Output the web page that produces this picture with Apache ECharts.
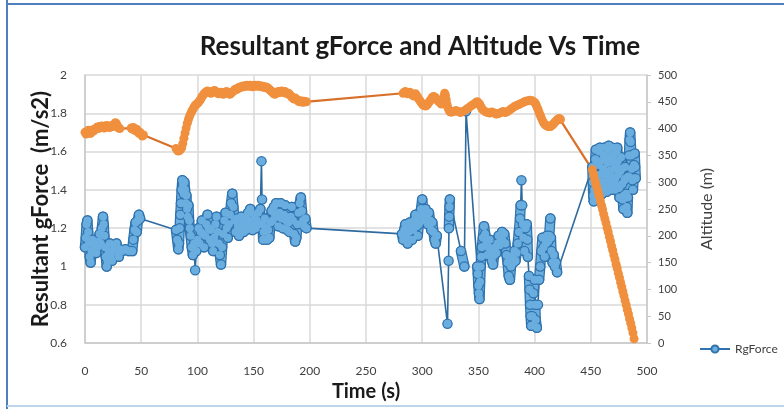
<!DOCTYPE html>
<html><head><meta charset="utf-8">
<script src="https://cdn.jsdelivr.net/npm/echarts@6/dist/echarts.min.js"></script>
<style>html,body{margin:0;padding:0;background:#fff}#c{width:784px;height:409px}</style>
</head><body><div id="c"></div><script>
const chartTitle = 'Resultant gForce and Altitude Vs Time';
const xName = 'Time (s)';
const yLeftName = 'Resultant gForce  (m/s2)';
const yRightName = 'Altitude (m)';
const seriesNames = ['RgForce', 'Altitude'];

// RgForce (left axis): time (s) and value
const gTime = [
 0,0.7,1.4,2.1,2.8,3.5,4.2,5,5.8,6.5,7.3,8,9,10,11,12,13,14,15,16,16.6,17.2,17.8,18.5,19.3,20,21,22,23,24,25,26,27,28,29,30,31,33,36,39,42,43,44,45,46,47,48,49,
 81,82,83,83.6,84.2,84.8,85.4,86,86.6,87.2,87.8,88.4,89,89.6,90.2,90.8,91.4,92,92.6,93.2,94,95,96,97,98,99,
 100,101,102,103,104,105,106,107,108,109,110,111,112,113,114,115,116,117,118,119,120,121,122,123,124,125,126,127,128,129,130,131,132,133,134,135,136,137,138,139,140,141,142,143,144,145,146,147,148,149,150,151,152,153,154,155,156,157,157.5,158,158.5,159,160,161,162,163,164,165,166,167,168,169,170,171,172,173,174,175,176,177,178,179,180,181,182,183,184,185,186,187,188,189,190,191,192,193,194,195,196,197,
 282,283,284,285,286,287,288,289,290,291,292,293,294,295,296,297,298,299,300,301,302,303,304,305,306,307,308,309,310,311,312,313,
 322.5,323.5,323.8,324,324.3,324.6,334.5,337.5,339,349,349.5,350,350.5,351,
 351.5,352,352.5,353,354,355,356,357,358,359,360,361,362,363,364,365,366,367,368,369,370,371,372,373,374,375,376,377,378,379,380,381,382,383,384,385,386,387,387.6,388.3,389,389.6,390,391,392,393,393.6,394,395,395.5,396,396.5,397,398,399,400,400.5,401,402,403,404,405,406,407,408,409,410,411,412,413,414,414.5,415,416,417,418,419,420,
 451.4,451.8,452.2,452.6,453,453.5,454,454.5,455,455.5,456,456.5,457,457.5,458,458.5,459,459.5,460,460.5,461,461.5,462,462.5,463,463.5,464,464.5,465,465.5,466,466.5,467,467.5,468,468.5,469,469.5,470,470.5,471,471.5,472,472.5,473,473.5,474,474.5,475,475.5,476,476.5,477,477.5,478,478.5,479,479.5,480,480.5,481,481.5,482,482.5,483,483.5,484,484.5,485,485.5,486,486.5,487,487.5,488,488.5,489,489.5,490
];
const gValue = [
 1.10,1.15,1.22,1.24,1.18,1.12,1.05,1.02,1.08,1.14,1.12,1.09,1.11,1.07,1.10,1.13,1.17,1.12,1.20,1.26,1.22,1.16,1.10,1.05,1.00,1.03,1.08,1.12,1.06,1.03,1.08,1.11,1.09,1.12,1.08,1.05,1.09,1.08,1.09,1.08,1.08,1.14,1.19,1.23,1.18,1.24,1.27,1.25,
 1.19,1.14,1.09,1.12,1.20,1.27,1.33,1.40,1.45,1.43,1.38,1.44,1.40,1.33,1.37,1.30,1.26,1.32,1.24,1.20,1.16,1.10,1.06,1.12,0.98,1.08,
 1.14,1.20,1.12,1.18,1.24,1.17,1.10,1.16,1.22,1.27,1.20,1.14,1.19,1.12,1.08,1.15,1.22,1.26,1.18,1.12,1.06,1.01,1.10,1.17,1.24,1.28,1.20,1.15,1.22,1.27,1.33,1.38,1.31,1.24,1.18,1.25,1.21,1.16,1.20,1.26,1.22,1.18,1.24,1.19,1.25,1.28,1.22,1.30,1.24,1.19,1.23,1.27,1.20,1.24,1.28,1.22,1.30,1.55,1.35,1.22,1.14,1.18,1.25,1.20,1.14,1.19,1.15,1.23,1.29,1.24,1.31,1.27,1.33,1.26,1.21,1.28,1.33,1.25,1.20,1.27,1.32,1.24,1.19,1.23,1.18,1.26,1.31,1.24,1.17,1.13,1.15,1.22,1.28,1.33,1.36,1.29,1.24,1.21,1.25,1.20,
 1.17,1.14,1.19,1.22,1.15,1.12,1.18,1.23,1.20,1.14,1.19,1.24,1.27,1.21,1.16,1.22,1.26,1.30,1.35,1.28,1.24,1.30,1.26,1.22,1.28,1.24,1.19,1.23,1.18,1.14,1.12,1.16,
 0.70,1.03,1.20,1.26,1.31,1.35,1.08,1.00,1.81,1.00,0.96,0.90,0.86,0.83,
 0.92,1.00,1.05,1.10,1.15,1.21,1.17,1.12,1.06,1.10,1.14,1.07,1.03,1.01,1.06,1.10,1.07,1.12,1.16,1.11,1.15,1.18,1.13,1.17,1.12,1.06,1.02,0.95,0.93,1.00,1.05,1.02,1.08,1.03,1.07,1.12,1.18,1.25,1.32,1.45,1.32,1.22,1.15,1.08,1.20,1.22,1.14,1.05,0.95,0.88,0.80,0.74,0.69,0.74,0.86,0.93,0.80,0.72,0.68,0.80,0.93,1.00,1.08,1.15,1.10,1.05,1.12,1.16,1.13,1.16,1.25,1.15,1.08,1.02,1.06,1.00,1.02,0.97,
 1.52,1.44,1.37,1.34,1.40,1.48,1.56,1.61,1.55,1.47,1.40,1.45,1.53,1.60,1.62,1.55,1.48,1.41,1.38,1.44,1.51,1.58,1.62,1.56,1.49,1.42,1.39,1.46,1.54,1.61,1.63,1.57,1.50,1.43,1.40,1.47,1.55,1.62,1.58,1.51,1.44,1.40,1.46,1.53,1.60,1.62,1.55,1.48,1.41,1.36,1.42,1.50,1.57,1.51,1.43,1.35,1.30,1.37,1.45,1.52,1.46,1.38,1.31,1.28,1.36,1.47,1.58,1.66,1.70,1.65,1.58,1.51,1.45,1.40,1.46,1.53,1.59,1.52,1.46
];

// Altitude (right axis): time (s) and metres
const aTime = [
 0,1,2,3,4,5,6,7,8,9,10,11,12,13,14,15,16,17,18,19,20,21,22,23,24,25,26,27,28,29,30,31,
 41,42,43,44,45,46,47,48,49,50,51,52,
 81,82,83,84,85,86,87,88,89,90,91,92,93,94,95,96,97,98,99,100,101,102,103,104,105,106,107,108,109,110,111,112,113,114,115,116,117,118,119,120,121,122,123,124,125,126,127,128,129,130,131,132,133,134,135,136,137,138,139,140,141,142,143,144,145,146,147,148,149,150,151,152,153,154,155,156,157,158,159,160,161,162,163,164,165,166,167,168,169,170,171,172,173,174,175,176,177,178,179,180,181,182,183,184,185,186,187,188,189,190,191,192,193,194,195,196,197,
 283,284,285,286,287,288,289,290,291,292,293,294,295,296,297,298,299,300,301,302,303,304,305,306,307,308,309,310,311,312,313,314,315,316,317,318,319,320,320.7,321.4,322,322.7,323.5,324.5,325.5,326,328,330,332,334,336,338,340,342,344,346,348,349,350,351,352,353,354,356,358,360,362,364,366,368,370,372,374,376,378,380,382,384,386,388,390,392,394,396,398,400,401,402,403,404,405,406,407,408,409,410,411,412,413,414,415,416,417,418,419,420,421,422,423,
 451.4,452.5,453.5,454.5,455.5,456.5,457.5,458.5,459.5,460.5,461.5,462.5,463.5,464.5,465.5,466.5,467.5,468.5,469.5,470.5,471.5,472.5,473.5,474.5,475.5,476.5,477.5,478.5,479.5,480.5,481.5,482.5,483.5,484.5,485.5,486.5,487.5,488.5
];
const aValue = [
 393,390,394,397,393,391,395,398,396,399,401,403,400,404,402,405,403,401,404,406,403,405,402,404,406,404,408,411,409,404,401,400,
 401,399,402,398,396,399,395,391,393,389,386,388,
 363,360,358,359,361,364,372,382,392,401,410,417,423,428,432,436,440,443,445,447,449,452,455,459,462,465,467,469,470,469,467,466,468,469,471,470,468,466,465,466,468,466,464,466,468,469,467,465,464,466,468,470,472,474,473,475,477,476,478,479,478,480,479,481,480,479,481,480,478,480,481,479,480,481,479,480,478,479,477,478,476,477,475,473,471,469,467,465,464,466,468,469,467,469,470,468,467,469,467,465,466,464,461,459,457,455,457,455,453,451,450,452,450,449,451,450,450,
 466,468,469,467,465,466,468,466,463,461,463,465,462,458,455,452,449,446,444,443,442,444,446,449,452,455,458,460,459,457,454,452,450,448,446,450,458,466,462,454,446,440,436,432,431,431,432,434,432,430,432,434,437,440,443,446,449,450,448,446,442,438,435,432,430,429,431,429,427,428,430,432,430,432,435,438,441,443,445,447,449,451,452,453,452,449,446,441,436,430,425,420,415,411,408,406,405,404,405,404,405,407,409,412,414,416,418,419,417,
 323,314,305,297,290,282,274,265,257,249,240,232,224,215,207,198,190,181,173,164,156,147,139,130,122,113,105,96,88,79,71,62,54,45,37,28,19,8
];

const xMin = 0, xMax = 500, xStep = 50;
const yLMin = 0.6, yLMax = 2, yLStep = 0.2;
const yRMin = 0, yRMax = 500, yRStep = 50;

const gData = gTime.map((t, i) => [t, gValue[i]]);
const aData = aTime.map((t, i) => [t, aValue[i]]);
// Same samples, split where consecutive readings are far apart, so dense runs can be drawn as solid bands
const gBlob = [];
gTime.forEach((t, i) => {
  if (i > 0 && (t - gTime[i - 1] > 3 || Math.abs(gValue[i] - gValue[i - 1]) > 0.1)) gBlob.push([t, null]);
  gBlob.push([t, gValue[i]]);
});

const FONT = 'Lato';
const DARK = '#2f72ad', LIGHT = '#6aaee0';
const chart = echarts.init(document.getElementById('c'), null, {renderer: 'canvas'});
chart.setOption({
  backgroundColor: '#ffffff',
  animation: false,
  title: {
    text: chartTitle, left: 415, top: 29, textAlign: 'center',
    textStyle: {fontFamily: FONT, fontWeight: 'bold', fontSize: 26, color: '#1a1a1a'}
  },
  graphic: [
    {type: 'line', shape: {x1: 7, y1: 0, x2: 7, y2: 409}, style: {stroke: '#4f7fbe', lineWidth: 2}},
    {type: 'line', shape: {x1: 7, y1: 4, x2: 784, y2: 4}, style: {stroke: '#4f7fbe', lineWidth: 2}},
    {type: 'line', shape: {x1: 7, y1: 406, x2: 784, y2: 406}, style: {stroke: '#bcd6ee', lineWidth: 2}}
  ],
  legend: {
    data: [{name: seriesNames[0], itemStyle: {color: LIGHT, borderColor: DARK, borderWidth: 2}, lineStyle: {color: DARK, width: 2}}],
    left: 694, top: 338, itemWidth: 30, itemHeight: 9, itemGap: 4,
    textStyle: {fontFamily: FONT, fontSize: 12, color: '#404040'}
  },
  grid: {left: 85, right: 137, top: 75, bottom: 66},
  xAxis: {
    type: 'value', min: xMin, max: xMax, interval: xStep,
    name: xName, nameLocation: 'middle', nameGap: 32,
    nameTextStyle: {fontFamily: FONT, fontWeight: 'bold', fontSize: 20, color: '#1a1a1a'},
    axisLine: {show: true, lineStyle: {color: '#c8c8c8', width: 1.5}},
    axisTick: {show: false},
    axisLabel: {fontFamily: FONT, fontSize: 12, color: '#404040', margin: 22},
    splitLine: {show: true, lineStyle: {color: '#d9d9d9', width: 1.5}}
  },
  yAxis: [{
    type: 'value', min: yLMin, max: yLMax, interval: yLStep, position: 'left',
    name: yLeftName, nameLocation: 'middle', nameGap: 33, nameRotate: 90, nameMoveOverlap: false,
    nameTextStyle: {fontFamily: FONT, fontWeight: 'bold', fontSize: 22, color: '#1a1a1a'},
    axisLine: {show: true, lineStyle: {color: '#c8c8c8', width: 1.5}},
    axisTick: {show: false},
    axisLabel: {fontFamily: FONT, fontSize: 12, color: '#404040', margin: 18},
    splitLine: {show: true, lineStyle: {color: '#d9d9d9', width: 1.5}}
  }, {
    type: 'value', min: yRMin, max: yRMax, interval: yRStep, position: 'right',
    name: yRightName, nameLocation: 'middle', nameGap: 52, nameRotate: 90,
    nameTextStyle: {fontFamily: FONT, fontSize: 16, color: '#404040'},
    axisLine: {show: true, lineStyle: {color: '#c8c8c8', width: 1.5}},
    axisTick: {show: true, length: 4, lineStyle: {color: '#c8c8c8'}},
    axisLabel: {fontFamily: FONT, fontSize: 11, color: '#404040', margin: 11},
    splitLine: {show: false}
  }],
  series: [{
    name: seriesNames[0], type: 'line', yAxisIndex: 0, data: gData,
    symbol: 'circle', symbolSize: 9, showSymbol: false,
    lineStyle: {color: '#2d6aa0', width: 1.6},
    itemStyle: {color: LIGHT, borderColor: DARK, borderWidth: 2}
  }, {
    name: seriesNames[0] + ' rim', type: 'line', yAxisIndex: 0, data: gBlob, connectNulls: false,
    symbol: 'circle', symbolSize: 10.5, showAllSymbol: true,
    lineStyle: {color: DARK, width: 10.5, cap: 'round', join: 'round'},
    itemStyle: {color: DARK, borderWidth: 0}
  }, {
    name: seriesNames[0] + ' fill', type: 'line', yAxisIndex: 0, data: gBlob, connectNulls: false,
    symbol: 'circle', symbolSize: 8, showAllSymbol: true,
    lineStyle: {color: LIGHT, width: 8, cap: 'round', join: 'round'},
    itemStyle: {color: LIGHT, borderWidth: 0}
  }, {
    name: seriesNames[1], type: 'line', yAxisIndex: 1, data: aData,
    symbol: 'circle', symbolSize: 9, showAllSymbol: true,
    lineStyle: {color: '#d8702a', width: 2.2},
    itemStyle: {color: '#f0903e', borderWidth: 0}
  }]
});
</script></body></html>
